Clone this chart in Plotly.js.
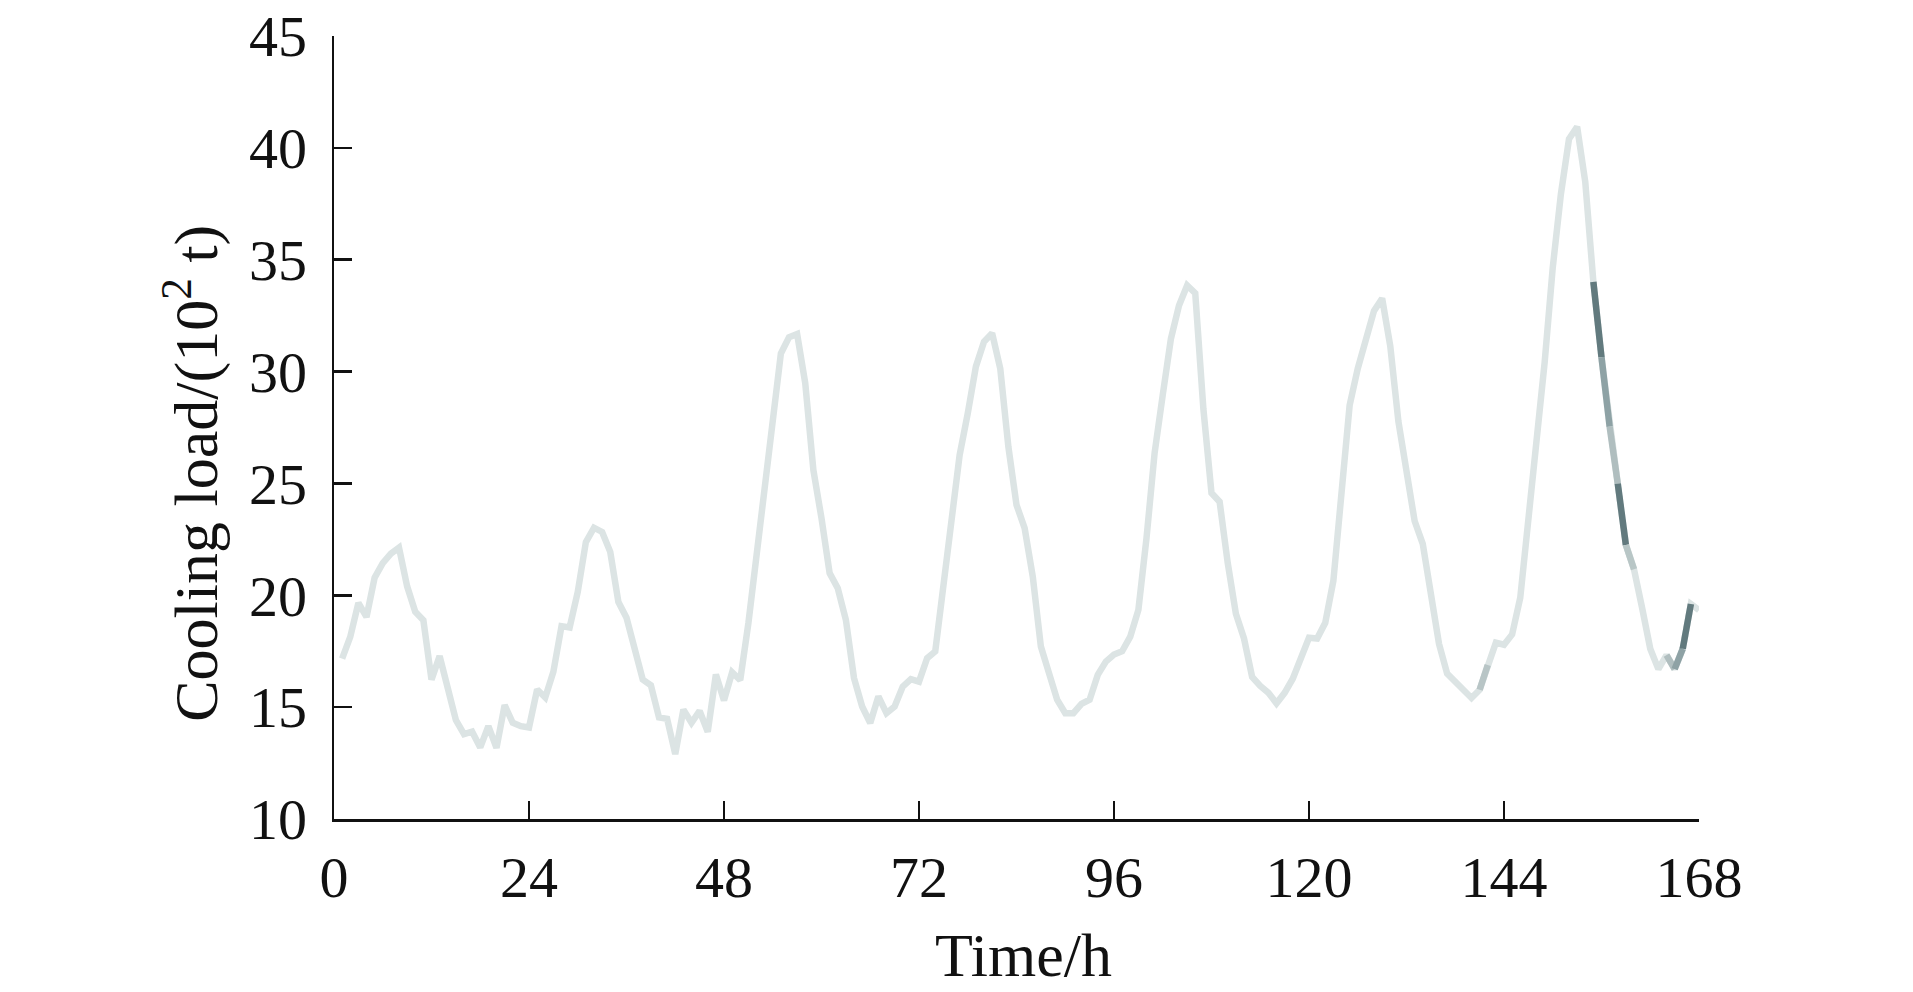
<!DOCTYPE html>
<html>
<head>
<meta charset="utf-8">
<script src="https://cdn.plot.ly/plotly-3.0.1.min.js"></script>
<style>
html,body{margin:0;padding:0;background:#fff;}
#chart{width:1913px;height:992px;}
</style>
</head>
<body>
<div id="chart"></div>
<script>
// Hours 1..168
const hours = Array.from({length: 168}, (_, i) => i + 1);

// Cooling load (10^2 t)
const load = [
  17.17, 18.14, 19.66, 19.03, 20.79, 21.44, 21.86, 22.13, 20.40, 19.26,
  18.88, 16.23, 17.28, 15.83, 14.42, 13.79, 13.90, 13.20, 14.15, 13.18,
  15.09, 14.30, 14.15, 14.09, 15.79, 15.43, 16.58, 18.62, 18.56, 20.15,
  22.38, 23.02, 22.83, 21.94, 19.70, 19.00, 17.69, 16.23, 15.98, 14.54,
  14.48, 12.90, 14.89, 14.30, 14.83, 13.90, 16.46, 15.30, 16.56, 16.21,
  18.75, 21.73, 25.30, 28.13, 30.81, 31.53, 31.68, 29.48, 25.60, 23.44,
  20.99, 20.32, 18.90, 16.30, 15.03, 14.29, 15.48, 14.73, 15.03, 15.92,
  16.25, 16.14, 17.19, 17.49, 20.40, 22.92, 26.27, 28.13, 30.22, 31.33,
  31.71, 30.14, 26.64, 24.04, 23.00, 20.84, 17.71, 16.52, 15.33, 14.73,
  14.73, 15.15, 15.33, 16.44, 17.04, 17.35, 17.50, 18.15, 19.35, 22.55,
  26.37, 28.96, 31.46, 32.95, 33.85, 33.50, 28.33, 24.57, 24.18, 21.44,
  19.17, 18.07, 16.35, 15.95, 15.64, 15.17, 15.64, 16.27, 17.21, 18.10,
  18.07, 18.77, 20.65, 24.88, 28.49, 30.13, 31.31, 32.71, 33.27, 31.15,
  27.78, 25.35, 23.32, 22.30, 20.26, 17.83, 16.50, 16.11, 15.80, 15.41,
  15.78, 16.88, 17.88, 17.79, 18.25, 19.89, 23.32, 26.92, 30.40, 34.65,
  37.93, 40.40, 40.94, 38.48, 34.01, 30.64, 27.54, 24.99, 22.25, 21.16,
  19.43, 17.61, 16.70, 17.33, 16.70, 17.61, 19.61, 19.34
];

// Highlighted segments: hour at which each segment starts
const segStartHours = [141, 155, 156, 157, 158, 159, 164, 165, 166];
const segColors = ['#b8c5c6', '#627a7e', '#8ea2a5', '#b0bebf', '#627a7e', '#b8c6c6', '#b0bebf', '#8ea2a5', '#627a7e'];

const xTicks = [0, 24, 48, 72, 96, 120, 144, 168];
const yTicks = [10, 15, 20, 25, 30, 35, 40, 45];

const LW = 6.5;
const traces = [{
  x: hours, y: load, type: 'scatter', mode: 'lines',
  line: {color: '#dce4e4', width: LW}, hoverinfo: 'skip', showlegend: false
}];
segStartHours.forEach((h, k) => {
  const i = hours.indexOf(h);
  traces.push({
    x: hours.slice(i, i + 2), y: load.slice(i, i + 2),
    type: 'scatter', mode: 'lines',
    line: {color: segColors[k], width: LW}, hoverinfo: 'skip', showlegend: false
  });
});

const FONT = 'Liberation Serif, Times New Roman, serif';
const layout = {
  width: 1913, height: 992,
  margin: {l: 334, r: 214, t: 36, b: 173, pad: 0},
  paper_bgcolor: '#ffffff', plot_bgcolor: '#ffffff',
  font: {family: FONT, size: 58, color: '#111'},
  showlegend: false,
  xaxis: {
    range: [0, 168], tickvals: xTicks, ticktext: xTicks.map(String),
    showgrid: false, zeroline: false, showline: true, linecolor: '#111', linewidth: 2.5,
    ticks: 'inside', ticklen: 18, tickwidth: 2.5, tickcolor: '#111',
    tickfont: {family: FONT, size: 58, color: '#111'}, ticklabelstandoff: 6
  },
  yaxis: {
    range: [10, 45], tickvals: yTicks, ticktext: yTicks.map(String),
    showgrid: false, zeroline: false, showline: true, linecolor: '#111', linewidth: 2.5,
    ticks: 'inside', ticklen: 18, tickwidth: 2.5, tickcolor: '#111',
    tickfont: {family: FONT, size: 58, color: '#111'}, ticklabelstandoff: 13
  },
  annotations: [
    {text: 'Time/h', xref: 'paper', yref: 'paper', x: 0.505, y: -0.174,
     xanchor: 'center', yanchor: 'middle', showarrow: false,
     font: {family: FONT, size: 62, color: '#111'}},
    {text: 'Cooling load/(10<sup>2</sup> t)', xref: 'paper', yref: 'paper', x: -0.104, y: 0.441,
     xanchor: 'center', yanchor: 'middle', showarrow: false, textangle: -90,
     font: {family: FONT, size: 62, color: '#111'}}
  ]
};

Plotly.newPlot('chart', traces, layout, {displayModeBar: false, staticPlot: true});
</script>
</body>
</html>
